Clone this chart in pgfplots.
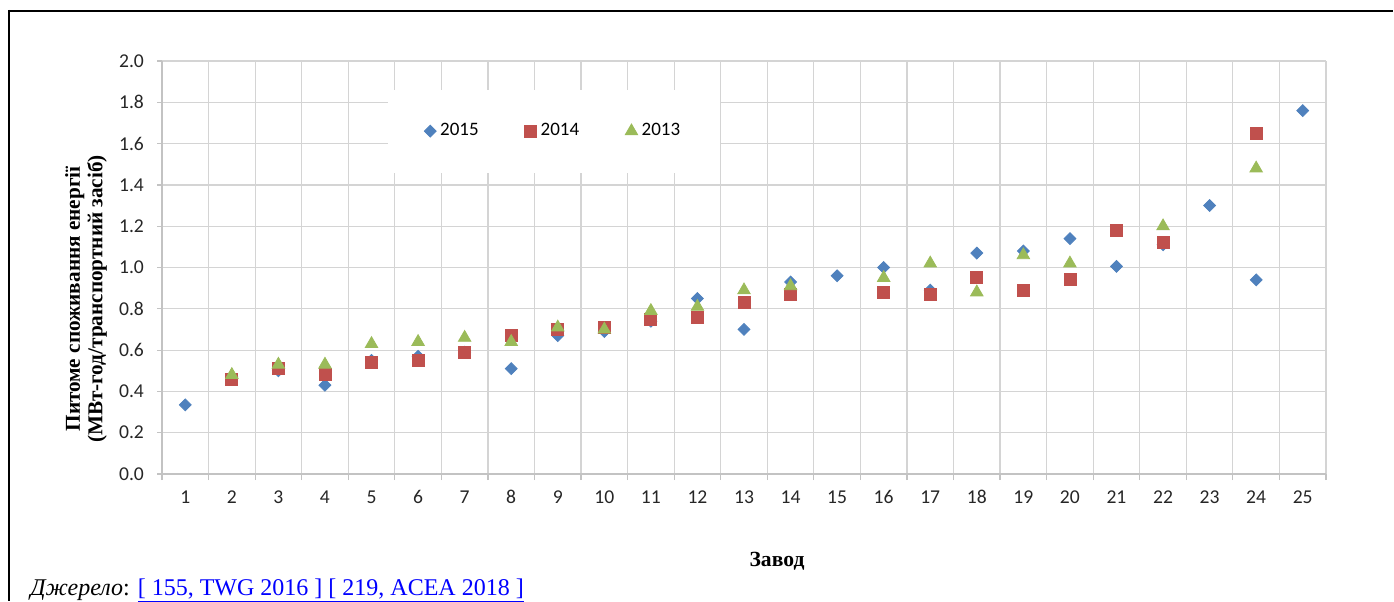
\documentclass[border=0pt]{standalone}
\usepackage{fontspec}
\setmainfont{Liberation Serif}
\newfontfamily\calib{Carlito}
\usepackage{pgfplots}
\pgfplotsset{compat=1.18}

\definecolor{xlblue}{HTML}{4F81BD}
\definecolor{xlred}{HTML}{C0504D}
\definecolor{xlgreen}{HTML}{9BBB59}
\definecolor{gridgray}{HTML}{D4D4D4}
\definecolor{linkblue}{HTML}{0000FF}

\begin{document}
\begin{tikzpicture}
% page: 1394x601 px at 0.5pt per px
\useasboundingbox (0pt,0pt) rectangle (697pt,300.5pt);
\draw[line width=1.2pt] (4.5pt,295pt) -- (696.5pt,295pt);
\draw[line width=1.2pt] (4.5pt,295.6pt) -- (4.5pt,0pt);

\begin{axis}[
    at={(81pt,63.5pt)}, anchor=south west,
    scale only axis,
    width=582pt, height=206.5pt,
    xmin=0.5, xmax=25.5,
    ymin=0, ymax=2,
    xtick={1,...,25},
    minor xtick={0.5,1.5,2.5,3.5,4.5,5.5,6.5,7.5,8.5,9.5,10.5,11.5,12.5,
        13.5,14.5,15.5,16.5,17.5,18.5,19.5,20.5,21.5,22.5,23.5,24.5,25.5},
    ytick={0,0.2,0.4,0.6,0.8,1.0,1.2,1.4,1.6,1.8,2.0},
    yticklabel={\pgfmathprintnumber[fixed,fixed zerofill,precision=1]{\tick}},
    /pgf/number format/assume math mode=true,
    ticklabel style={font=\calib\fontsize{9.8}{10}\selectfont, text=black!85},
    xticklabel style={yshift=-2.5pt, text height=1.4ex, text depth=0.2ex},
    yticklabel style={xshift=-3pt},
    tick pos=left,
    tick align=outside,
    major x tick style={draw=none},
    major tick length=2.5pt,
    minor tick length=3pt,
    tick style={gridgray!80!gray, line width=0.6pt},
    xminorgrids=true,
    ymajorgrids=true,
    grid style={gridgray, line width=0.6pt},
    minor grid style={gridgray, line width=0.6pt},
    axis line style={gridgray!80!gray, line width=0.6pt},
    axis x line*=bottom,
    axis y line*=left,
    clip=false,
    legend columns=3,
    legend style={at={(0.337,0.830)}, anchor=center, draw=none, fill=white,
        inner xsep=18pt, inner ysep=15pt,
        font=\calib\fontsize{9.5}{10}\selectfont,
        /tikz/every even column/.append style={column sep=21pt}},
    legend cell align=left,
]
\addplot[only marks, mark=square*, mark size=2.1pt,
    mark options={rotate=45, fill=xlblue, draw=xlblue}] coordinates {
    (1,0.335) (2,0.47) (3,0.50) (4,0.43) (5,0.55) (6,0.57) (7,0.59)
    (8,0.51) (9,0.67) (10,0.69) (11,0.74) (12,0.85) (13,0.70) (14,0.93)
    (15,0.96) (16,1.00) (17,0.89) (18,1.07) (19,1.08) (20,1.14)
    (21,1.005) (22,1.11) (23,1.30) (24,0.94) (25,1.76)
};
\addlegendentry{2015}
\addplot[only marks, mark=square*, mark size=3pt,
    mark options={fill=xlred, draw=xlred}] coordinates {
    (2,0.46) (3,0.51) (4,0.48) (5,0.54) (6,0.55) (7,0.59) (8,0.67)
    (9,0.70) (10,0.71) (11,0.75) (12,0.76) (13,0.83) (14,0.87)
    (16,0.88) (17,0.87) (18,0.95) (19,0.89) (20,0.94) (21,1.18)
    (22,1.12) (24,1.65)
};
\addlegendentry{2014}
\addplot[only marks, mark=triangle*, mark size=3.6pt,
    mark options={fill=xlgreen, draw=xlgreen}] coordinates {
    (2,0.48) (3,0.53) (4,0.53) (5,0.63) (6,0.64) (7,0.66) (8,0.64)
    (9,0.71) (10,0.70) (11,0.79) (12,0.81) (13,0.89) (14,0.91)
    (16,0.95) (17,1.02) (18,0.88) (19,1.06) (20,1.02) (22,1.20)
    (24,1.48)
};
\addlegendentry{2013}
\end{axis}

\node[rotate=90, align=center, font=\bfseries\fontsize{10.6}{11.2}\selectfont]
    at (43pt,151pt) {Питоме споживання енергії\\(МВт-год/транспортний засіб)};
\node[font=\bfseries\fontsize{10.8}{12}\selectfont] at (388.5pt,20pt) {Завод};
\node[anchor=base west, inner sep=0pt, font=\fontsize{12}{14}\selectfont]
    at (15pt,3pt) {\textit{Джерело}: \textcolor{linkblue}{\underline{[ 155, TWG 2016 ] [ 219, ACEA 2018 ]}}};
\end{tikzpicture}
\end{document}
